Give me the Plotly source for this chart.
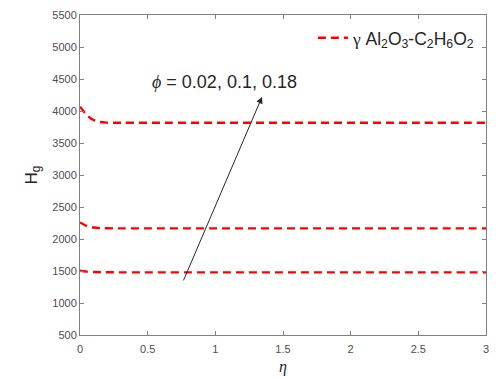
import plotly.graph_objects as go

eta = [0, 0.025, 0.05, 0.1, 0.15, 0.2, 0.3, 0.5, 1.0, 1.5, 2.0, 2.5, 3.0]
hg_phi002 = [1505, 1497, 1490, 1484, 1481, 1480, 1479, 1479, 1479, 1479, 1479, 1479, 1479]
hg_phi01 = [2258, 2230, 2205, 2180, 2170, 2167, 2166, 2166, 2166, 2166, 2166, 2166, 2166]
hg_phi018 = [4068, 4000, 3935, 3860, 3828, 3818, 3816, 3816, 3816, 3816, 3816, 3816, 3816]

xticks = [0, 0.5, 1, 1.5, 2, 2.5, 3]
yticks = [500, 1000, 1500, 2000, 2500, 3000, 3500, 4000, 4500, 5000, 5500]


def sub(s):
    return "<sub>" + s + "</sub>"


legend_name = ("<span style='font-family:Liberation Serif'>γ</span> Al" + sub("2") + "O" + sub("3")
               + "-C" + sub("2") + "H" + sub("6") + "O" + sub("2"))
arrow_tail = (0.76, 1330)
arrow_head = (1.345, 4220)
phi_label = "<span style='font-family:Liberation Serif'><i>ϕ</i></span> = 0.02, 0.1, 0.18"

fig = go.Figure()
series = [hg_phi002, hg_phi01, hg_phi018]
for i, ys in enumerate(series):
    fig.add_trace(go.Scatter(
        x=eta, y=ys, mode="lines", name=legend_name,
        line=dict(color="#ff0000", width=2.4, dash="8px,5px", shape="spline"),
        showlegend=(i == 0),
    ))

fig.add_annotation(
    x=arrow_head[0], y=arrow_head[1], ax=arrow_tail[0], ay=arrow_tail[1],
    xref="x", yref="y", axref="x", ayref="y",
    showarrow=True, arrowhead=2, arrowsize=1.3, arrowwidth=1, arrowcolor="#262626", text="",
)
fig.add_annotation(
    x=1.07, y=4455, xref="x", yref="y", text=phi_label, showarrow=False,
    font=dict(family="Liberation Sans, Arial", size=18, color="#262626"),
)

axis_common = dict(
    showline=True, linecolor="#808080", linewidth=1, mirror="ticks",
    ticks="inside", ticklen=4, tickcolor="#808080", showgrid=False, zeroline=False,
    automargin=False,
    tickfont=dict(family="Liberation Sans, Arial", size=11, color="#4d4d4d"),
)
fig.update_xaxes(range=[0, 3], tickvals=xticks, ticktext=[str(t) for t in xticks],
                 ticklabelstandoff=4,
                 title=dict(text="<i>η</i>", font=dict(family="Liberation Serif, Times New Roman", size=16, color="#262626"), standoff=6),
                 **axis_common)
fig.update_yaxes(range=[500, 5500], tickvals=yticks, ticktext=[str(t) for t in yticks],
                 title=dict(text="H<sub>g</sub>", font=dict(family="Liberation Sans, Arial", size=17, color="#262626"), standoff=10),
                 **axis_common)

fig.update_layout(
    width=497, height=378,
    margin=dict(l=80, r=11, t=15, b=43),
    plot_bgcolor="white", paper_bgcolor="white",
    legend=dict(x=0.985, y=0.985, xanchor="right", yanchor="top", bgcolor="rgba(0,0,0,0)",
                font=dict(family="Liberation Sans, Arial", size=17.5, color="#262626"),
                itemwidth=30),
)

fig.write_html("out.html")
